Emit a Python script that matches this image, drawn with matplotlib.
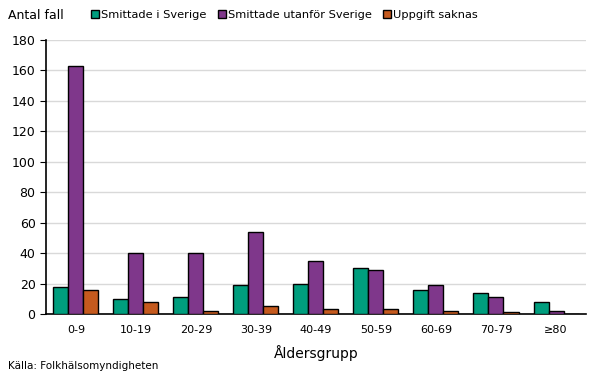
import numpy as np
import matplotlib.pyplot as plt

grupper = ["0-9", "10-19", "20-29", "30-39", "40-49", "50-59", "60-69", "70-79", "≥80"]
sverige = [18, 10, 11, 19, 20, 30, 16, 14, 8]
utanfor = [163, 40, 40, 54, 35, 29, 19, 11, 2]
saknas = [16, 8, 2, 5, 3, 3, 2, 1, 0]

serier = ["Smittade i Sverige", "Smittade utanför Sverige", "Uppgift saknas"]
farger = ["#009E7E", "#7F378B", "#C55A1E"]

plt.rcParams['font.family'] = ['DejaVu Sans']
fig = plt.figure(figsize=(6.05, 3.79), dpi=100)
ax = fig.add_axes([0.076, 0.1715, 0.8926, 0.723])

x = np.arange(len(grupper))
w = 0.25
for i, (data, namn, f) in enumerate(zip([sverige, utanfor, saknas], serier, farger)):
    ax.bar(x + (i - 1) * w, data, w, color=f, edgecolor="black", linewidth=1.0,
           label=namn, zorder=3)

ax.set_ylim(0, 180)
ax.set_yticks(range(0, 181, 20))
ax.set_xlim(-0.5, len(grupper) - 0.5)
ax.set_xticks(x)
ax.set_xticklabels(grupper)
ax.tick_params(axis="x", length=0, labelsize=8, pad=8)
ax.tick_params(axis="y", length=4, direction="out", labelsize=9)
ax.yaxis.grid(True, color="#d9d9d9", linewidth=1, zorder=0)
for s in ["top", "right"]:
    ax.spines[s].set_visible(False)
ax.spines["left"].set_linewidth(1.2)
ax.spines["bottom"].set_linewidth(1.2)
ax.set_xlabel("Åldersgrupp", fontsize=10, labelpad=7)

fig.text(0.013, 0.96, "Antal fall", fontsize=9, va="center")
fig.text(0.013, 0.035, "Källa: Folkhälsomyndigheten", fontsize=7.5, va="center")

fig.legend(loc="center", bbox_to_anchor=(0.47, 0.96), ncol=3, frameon=False,
           fontsize=8.2, handlelength=0.7, handleheight=0.7, handletextpad=0.2,
           columnspacing=1.0, borderaxespad=0)

fig.savefig("out.png", dpi=100)
